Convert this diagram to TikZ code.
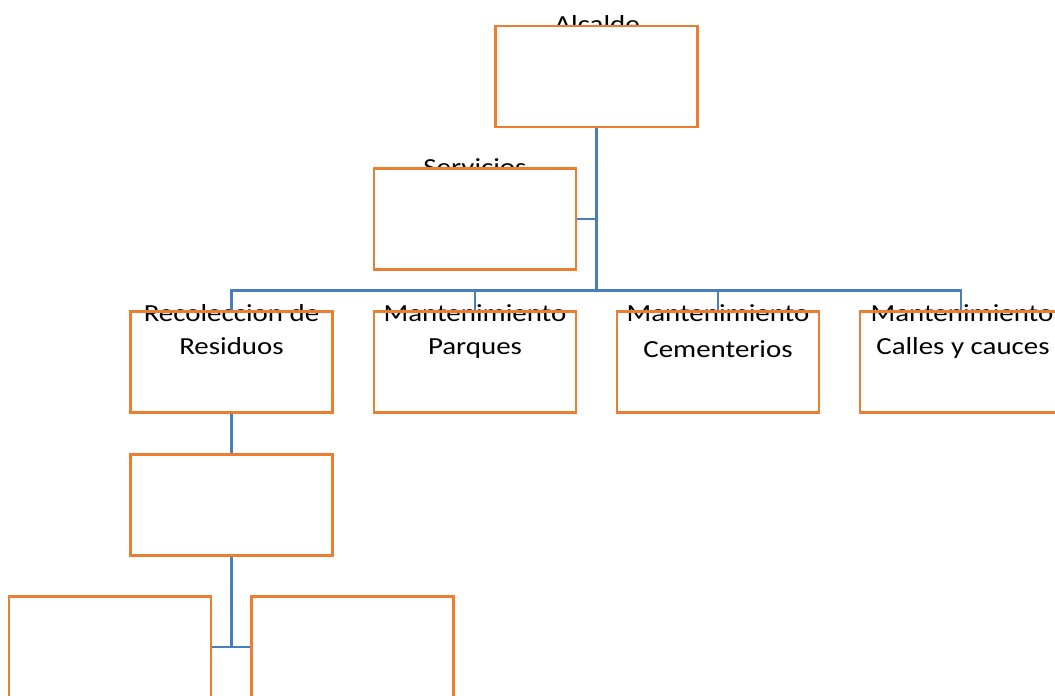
\documentclass[tikz,border=0pt]{standalone}
\usepackage{fontspec}
\setmainfont{Carlito}[FakeStretch=1.18]
\usetikzlibrary{calc}
\definecolor{boxorange}{RGB}{237,125,49}
\definecolor{lineblue}{RGB}{74,126,187}
\tikzset{
  unit/.style={draw=boxorange,line width=2.2pt,minimum width=202pt,minimum height=101pt,inner sep=0pt},
  cover/.style={unit,fill=white},
  link/.style={draw=lineblue,line width=2.2pt},
  txt/.style={anchor=base,inner sep=0pt,font=\fontsize{24.5}{32}\selectfont}
}
\begin{document}
\begin{tikzpicture}[x=1pt,y=-1pt]
                        \useasboundingbox (0,0) rectangle (1055,696);
                        \clip (0,0) rectangle (1055,696);
                        % texts, under the boxes
                        \node[txt] (alcaldeT) at (597,32) {Alcalde};
                        \node[txt] (serviciosT) at (475,175) {Servicios};
                        \node[txt] (recolA) at (231.5,321) {Recoleccion de};
                        \node[txt] (recolB) at (231.5,354) {Residuos};
                        \node[txt] (parquesA) at (475,321) {Mantenimiento};
                        \node[txt] (parquesB) at (475,354) {Parques};
                        \node[txt] (cementA) at (718,321) {Mantenimiento};
                        \node[txt] (cementB) at (718,357) {Cementerios};
                        \node[txt] (callesA) at (962,321) {Mantenimiento};
                        \node[txt] (callesB) at (963,354) {Calles y cauces};
                        % boxes
                        \coordinate (bus) at (596.5,290.5);
                        \node[cover] (alcalde) at (596.5,76.5) {};
                        \node[cover] (servicios) at (475,219) {};
                        \node[unit] (recol) at (231.5,362) {};
                        \node[unit] (parques) at (475,362) {};
                        \node[unit] (cement) at (718,362) {};
                        \node[unit] (calles) at (961,362) {};
                        \node[unit] (sub) at (231.5,505) {};
                        \node[unit] (leftbox) at (110,647) {};
                        \node[unit] (rightbox) at (352.5,647) {};
                        % connectors
                        \draw[link] (alcalde.south) -- (bus);
                        \draw[link] (servicios.east) -- (servicios.east -| alcalde.south);
                        \draw[link] (recol.north) |- (bus) -| (calles.north);
                        \draw[link] (parques.north) -- (parques.north |- bus);
                        \draw[link] (cement.north) -- (cement.north |- bus);
                        \draw[link] (recol.south) -- (sub.north);
                        \draw[link] (sub.south) -- (sub.south |- leftbox.east);
                        \draw[link] (leftbox.east) -- (rightbox.west);
                    \end{tikzpicture}
\end{document}
